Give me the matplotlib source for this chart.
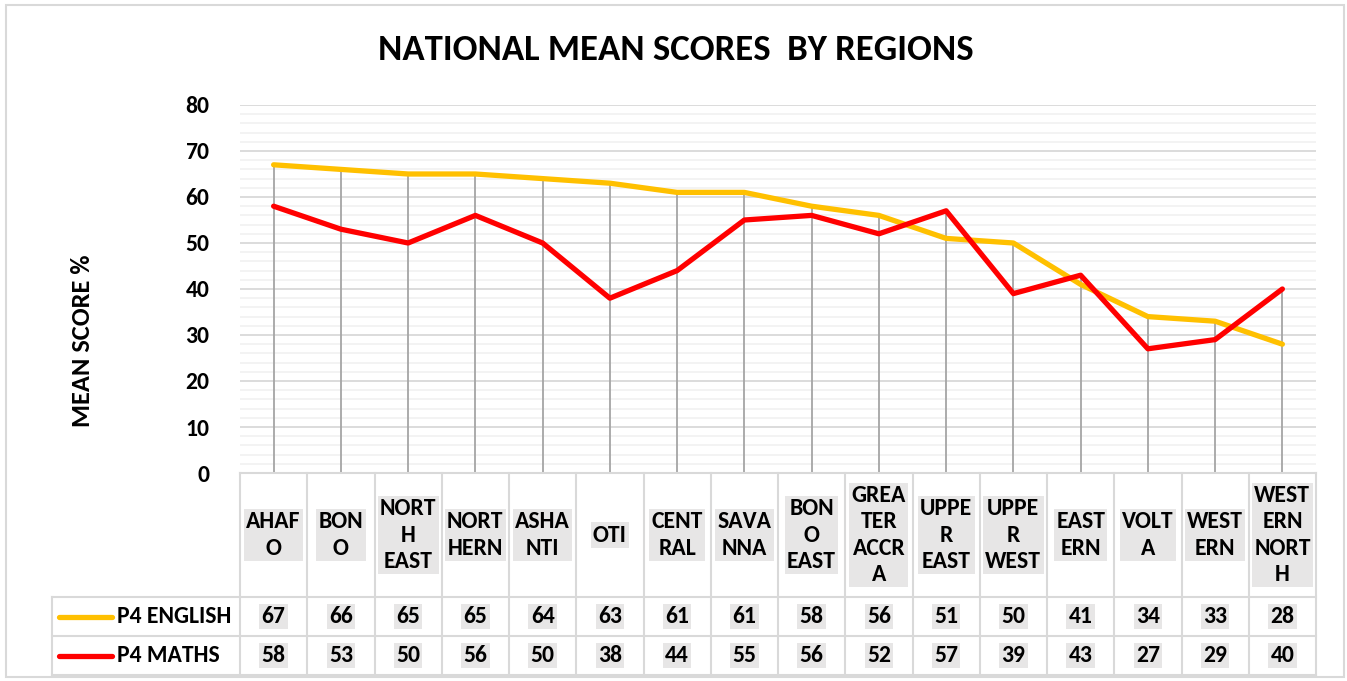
import numpy as np
import matplotlib
matplotlib.use("Agg")
import matplotlib.pyplot as plt
from matplotlib.transforms import blended_transform_factory
from matplotlib.lines import Line2D
from matplotlib.patches import Rectangle

# ---------------- data ----------------
categories = ["AHAF\nO", "BON\nO", "NORT\nH\nEAST", "NORT\nHERN", "ASHA\nNTI", "OTI",
              "CENT\nRAL", "SAVA\nNNA", "BON\nO\nEAST", "GREA\nTER\nACCR\nA",
              "UPPE\nR\nEAST", "UPPE\nR\nWEST", "EAST\nERN", "VOLT\nA", "WEST\nERN",
              "WEST\nERN\nNORT\nH"]
p4_english = [67, 66, 65, 65, 64, 63, 61, 61, 58, 56, 51, 50, 41, 34, 33, 28]
p4_maths = [58, 53, 50, 56, 50, 38, 44, 55, 56, 52, 57, 39, 43, 27, 29, 40]
series_names = ["P4 ENGLISH", "P4 MATHS"]
series_colors = ["#FFC000", "#FF0000"]
y_ticks = list(range(0, 81, 10))
title = "NATIONAL MEAN SCORES  BY REGIONS"
y_label = "MEAN SCORE %"

# ---------------- layout ----------------
plt.rcParams['font.family'] = ['Carlito', 'DejaVu Sans']
W, H = 1347, 681
fig = plt.figure(figsize=(W / 100, H / 100), dpi=100)


def fx(px):
    return px / W


def fy(py):
    return 1 - py / H


L, R, T, B = 240, 1316, 105, 473
ROW_CAT_BOTTOM, ROW1_BOTTOM, ROW2_BOTTOM = 597, 636, 675
LEG_LEFT = 52
GRID = "#d9d9d9"
FS = 17

ax = fig.add_axes([fx(L), fy(B), (R - L) / W, (B - T) / H])
n = len(categories)
x = np.arange(n)
ax.set_xlim(-0.5, n - 0.5)
ax.set_ylim(0, 80)
ax.set_yticks(y_ticks)
ax.set_yticks(range(0, 81, 2), minor=True)
ax.grid(which='major', axis='y', color=GRID, lw=1.3)
ax.grid(which='minor', axis='y', color='#f2f2f2', lw=1.3)
ax.set_axisbelow(True)
for s in ['top', 'right', 'left']:
    ax.spines[s].set_visible(False)
ax.spines['bottom'].set_color(GRID)
ax.spines['bottom'].set_linewidth(1.5)
ax.set_xticks([])
ax.tick_params(axis='y', which='both', length=0, labelsize=FS, pad=22)
for lab in ax.get_yticklabels():
    lab.set_fontweight('bold')

# drop lines
ax.vlines(x, 0, np.maximum(p4_english, p4_maths), color='#a5a5a5', lw=1.3, zorder=2)
for vals, col in zip([p4_english, p4_maths], series_colors):
    ax.plot(x, vals, color=col, lw=3.8, zorder=3,
            solid_joinstyle='round', solid_capstyle='round')

# ---------------- data table ----------------
blend = blended_transform_factory(ax.transData, fig.transFigure)


def fline(xs, ys, **kw):
    fig.add_artist(Line2D(xs, ys, transform=fig.transFigure, **kw))


for yy in [ROW_CAT_BOTTOM, ROW1_BOTTOM, ROW2_BOTTOM]:
    fline([fx(LEG_LEFT), fx(R)], [fy(yy)] * 2, color=GRID, lw=1.5)
for i in range(n + 1):
    fig.add_artist(Line2D([i - 0.5, i - 0.5], [fy(B), fy(ROW2_BOTTOM)],
                          transform=blend, color=GRID, lw=1.5))
fline([fx(LEG_LEFT)] * 2, [fy(ROW_CAT_BOTTOM), fy(ROW2_BOTTOM)], color=GRID, lw=1.5)

box = dict(boxstyle='square,pad=0.1', fc='#e7e6e6', ec='none')
for i, c in enumerate(categories):
    fig.text(i, fy((B + ROW_CAT_BOTTOM) / 2), c, transform=blend, ha='center',
             va='center', fontsize=FS, fontweight='bold', linespacing=1.3,
             bbox=box, color='black')

rows = [(p4_english, (ROW_CAT_BOTTOM + ROW1_BOTTOM) / 2),
        (p4_maths, (ROW1_BOTTOM + ROW2_BOTTOM) / 2)]
for (vals, yc), name, col in zip(rows, series_names, series_colors):
    for i, v in enumerate(vals):
        fig.text(i, fy(yc), str(v), transform=blend, ha='center', va='center',
                 fontsize=FS, fontweight='bold', bbox=box)
    fline([fx(59), fx(112)], [fy(yc)] * 2, color=col, lw=3.8, solid_capstyle='round')
    fig.text(fx(117), fy(yc), name, ha='left', va='center', fontsize=FS,
             fontweight='bold')

# ---------------- titles ----------------
fig.text(fx(676), fy(50), title, ha='center', va='center', fontsize=26.5,
         fontweight='bold')
fig.text(fx(83), fy(341), y_label, rotation=90, ha='center', va='center',
         fontsize=19, fontweight='bold')

# chart border
fig.add_artist(Rectangle((fx(6), fy(677)), fx(1344) - fx(6), fy(5) - fy(677),
                         transform=fig.transFigure, fill=False, ec=GRID, lw=1.5))

fig.savefig("out.png", dpi=100)
